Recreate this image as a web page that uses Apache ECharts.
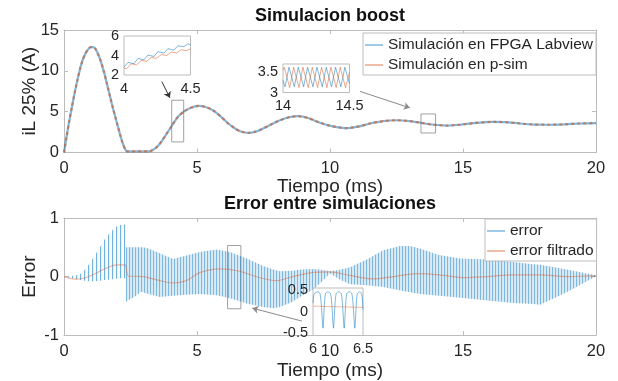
<!DOCTYPE html>
<html>
<head>
<meta charset="utf-8">
<script src="https://cdn.jsdelivr.net/npm/echarts@6/dist/echarts.min.js"></script>
<style>
  html, body { margin: 0; padding: 0; background: #fff; }
  #chart { width: 618px; height: 381px; }
</style>
</head>
<body>
<div id="chart"></div>
<script>
// ---- Inductor current, averaged over the switching period (ms, A) ----
const tMain = [0, 0.1, 0.2, 0.3, 0.4, 0.5, 0.6, 0.7, 0.8, 0.9, 1.0, 1.1, 1.2, 1.35, 1.5, 1.6, 1.75, 1.85, 2.0, 2.1, 2.2, 2.3, 2.36, 2.6, 2.9, 3.2, 3.3, 3.45, 3.61, 3.86, 4.0, 4.24, 4.5, 4.75, 5.05, 5.3, 5.61, 5.9, 6.12, 6.4, 6.62, 6.93, 7.2, 7.49, 7.8, 8.12, 8.5, 8.8, 9.2, 9.62, 10.1, 10.63, 11.1, 11.5, 12.0, 12.5, 13.0, 13.38, 13.9, 14.39, 14.9, 15.39, 16.14, 16.6, 17.14, 17.7, 18.27, 18.8, 19.4, 20];
const iFpga = [0, 2.0, 3.9, 5.6, 7.3, 8.8, 10.2, 11.3, 12.1, 12.6, 12.9, 12.9, 12.6, 11.5, 9.9, 8.6, 6.6, 5.3, 3.5, 2.3, 1.2, 0.4, 0.15, 0.15, 0.15, 0.15, 0.25, 0.55, 1.1, 2.3, 3.0, 4.2, 5.0, 5.45, 5.7, 5.6, 5.15, 4.4, 3.7, 3.0, 2.6, 2.4, 2.55, 2.95, 3.45, 3.95, 4.35, 4.45, 4.2, 3.65, 3.2, 2.98, 3.2, 3.55, 3.85, 3.95, 3.85, 3.65, 3.4, 3.3, 3.4, 3.6, 3.75, 3.72, 3.55, 3.42, 3.4, 3.45, 3.55, 3.6];
const iPsim = [0, 2.0, 3.9, 5.6, 7.3, 8.8, 10.2, 11.3, 12.1, 12.6, 12.9, 12.9, 12.6, 11.5, 9.9, 8.6, 6.6, 5.3, 3.5, 2.3, 1.2, 0.4, 0.15, 0.15, 0.15, 0.15, 0.25, 0.55, 1.1, 2.3, 3.0, 4.2, 5.0, 5.45, 5.7, 5.6, 5.15, 4.4, 3.7, 3.0, 2.6, 2.4, 2.55, 2.95, 3.45, 3.95, 4.35, 4.45, 4.2, 3.65, 3.2, 2.98, 3.2, 3.55, 3.85, 3.95, 3.85, 3.65, 3.4, 3.3, 3.4, 3.6, 3.75, 3.72, 3.55, 3.42, 3.4, 3.45, 3.55, 3.6];

// ---- Error envelope (upper / lower peaks of the ripple), before and after 2.32 ms ----
const errT1  = [0, 0.3, 0.6, 0.79, 0.98, 1.17, 1.35, 1.54, 1.73, 1.92, 2.1, 2.25, 2.32];
const errUp1 = [0, 0.01, 0.04, 0.12, 0.23, 0.37, 0.50, 0.64, 0.75, 0.84, 0.88, 0.89, 0.89];
const errLo1 = [0, -0.03, -0.06, -0.07, -0.08, -0.08, -0.07, -0.06, -0.05, -0.04, -0.03, -0.03, -0.03];
const errT2  = [2.32, 2.6, 2.9, 3.1, 3.6, 4.1, 4.6, 5.1, 5.74, 6.24, 6.87, 7.49, 7.87, 8.12, 8.6, 8.87, 9.37, 9.62, 10.0, 10.4, 10.75, 11.38, 12.0, 12.63, 13.0, 13.38, 14.1, 14.9, 15.9, 16.9, 17.64, 17.9, 18.9, 19.9, 20];
const errUp2 = [0.50, 0.50, 0.50, 0.49, 0.40, 0.30, 0.36, 0.42, 0.46, 0.42, 0.31, 0.18, 0.12, 0.09, 0.10, 0.12, 0.13, 0.12, 0.09, 0.12, 0.16, 0.29, 0.45, 0.52, 0.52, 0.48, 0.37, 0.31, 0.29, 0.25, 0.21, 0.20, 0.12, 0.03, 0.02];
const errLo2 = [-0.43, -0.36, -0.26, -0.29, -0.35, -0.33, -0.31, -0.30, -0.32, -0.37, -0.46, -0.52, -0.54, -0.52, -0.43, -0.35, -0.22, -0.12, 0.05, -0.06, -0.13, -0.15, -0.18, -0.24, -0.27, -0.30, -0.33, -0.36, -0.41, -0.45, -0.47, -0.48, -0.27, -0.02, 0];

// ---- Filtered error ----
const tFilt   = [0, 0.48, 0.98, 1.48, 1.98, 2.29, 2.42, 2.98, 3.6, 4.1, 4.6, 5.1, 5.86, 6.6, 7.37, 8.0, 8.6, 9.37, 10.0, 10.75, 11.6, 12.4, 13.26, 14.1, 15.1, 15.9, 16.9, 17.9, 18.9, 19.9, 20];
const errFilt = [0, -0.045, 0.01, 0.12, 0.2, 0.2, 0.01, 0, -0.07, -0.11, -0.07, 0.066, 0.13, 0.09, -0.02, -0.07, 0, 0.07, 0.08, 0.02, -0.04, 0, 0.05, 0.03, -0.02, 0, 0.03, 0.03, 0, 0.01, 0.01];

// ---- Detail 4 - 4.5 ms ----
const z1TF = [4.000, 4.030, 4.075, 4.105, 4.150, 4.180, 4.225, 4.255, 4.300, 4.330, 4.375, 4.405, 4.450, 4.480, 4.500];
const z1IF = [2.80, 3.30, 3.15, 3.70, 3.55, 4.05, 3.90, 4.40, 4.25, 4.70, 4.55, 5.00, 4.90, 5.20, 5.10];
const z1TP = [4.000, 4.020, 4.055, 4.095, 4.130, 4.170, 4.205, 4.245, 4.280, 4.320, 4.355, 4.395, 4.430, 4.470, 4.500];
const z1IP = [2.70, 2.65, 3.15, 3.05, 3.50, 3.40, 3.80, 3.70, 4.10, 4.00, 4.35, 4.25, 4.60, 4.50, 4.70];

// ---- Detail 14 - 14.5 ms ----
const z2TF = [14.000, 14.015, 14.045, 14.085, 14.115, 14.155, 14.185, 14.225, 14.255, 14.295, 14.325, 14.365, 14.395, 14.435, 14.465, 14.500];
const z2IF = [3.30, 3.14, 3.62, 3.14, 3.62, 3.14, 3.62, 3.14, 3.62, 3.14, 3.62, 3.14, 3.62, 3.14, 3.62, 3.22];
const z2TP = [14.000, 14.010, 14.050, 14.080, 14.120, 14.150, 14.190, 14.220, 14.260, 14.290, 14.330, 14.360, 14.400, 14.430, 14.470, 14.500];
const z2IP = [3.55, 3.62, 3.12, 3.62, 3.12, 3.62, 3.12, 3.62, 3.12, 3.62, 3.12, 3.62, 3.12, 3.62, 3.12, 3.50];

// ---- Detail of the error 6 - 6.5 ms ----
const z3T = [6.000, 6.010, 6.030, 6.050, 6.070, 6.085, 6.100, 6.112, 6.125, 6.150, 6.175, 6.190, 6.205, 6.218, 6.232, 6.257, 6.282, 6.297, 6.312, 6.325, 6.338, 6.363, 6.388, 6.403, 6.418, 6.431, 6.444, 6.468, 6.488, 6.500];
const z3E = [0.20, 0.40, 0.45, 0.46, 0.42, 0.10, -0.38, 0.10, 0.42, 0.46, 0.42, 0.10, -0.38, 0.10, 0.42, 0.46, 0.42, 0.10, -0.38, 0.10, 0.42, 0.46, 0.42, 0.10, -0.38, 0.10, 0.42, 0.46, 0.40, 0.05];
const z3FT = [6.0, 6.5];
const z3FE = [0.13, 0.10];

// ---- Tick labels ----
const z1XTicks = [4, 4.5], z1YTicks = [2, 4, 6];
const z2XTicks = [14, 14.5], z2YTicks = [3, 3.5];
const z3XTicks = [6, 6.5], z3YTicks = [-0.5, 0, 0.5];

const pairs = (xs, ys) => xs.map((x, i) => [x, ys[i]]);

const FONT = 'Liberation Sans, Arial, Helvetica, sans-serif';
const TXT = '#262626';
const AX = '#bcbcbc';
const BLUE = 'rgba(0,114,189,0.5)';
const ORANGE = 'rgba(217,83,25,0.5)';

// vertical-stripe fills for the ripple band of the error signal
function stripes(w, cols) {
  const c = document.createElement('canvas');
  c.width = w; c.height = 4;
  const g = c.getContext('2d');
  cols.forEach((col, i) => { g.fillStyle = col; g.fillRect(i, 0, 1, 4); });
  return { image: c, repeat: 'repeat' };
}
const stripeSparse = stripes(4, ['rgba(0,114,189,0.55)', 'rgba(0,114,189,0.1)', 'rgba(0,114,189,0.03)', 'rgba(0,114,189,0.03)']);
const stripeDense = stripes(3, ['rgba(0,114,189,0.5)', 'rgba(0,114,189,0.16)', 'rgba(0,114,189,0.14)']);

function bandSeries(ts, up, lo, fill) {
  return {
    type: 'custom', name: 'error', xAxisIndex: 2, yAxisIndex: 2, z: 2, clip: true,
    itemStyle: { color: BLUE },
    encode: { x: 0, y: [1, 2] },
    data: ts.map((t, i) => [t, up[i], lo[i]]),
    renderItem: function (params, api) {
      if (params.dataIndex !== 0) return null;
      const pts = [];
      for (let i = 0; i < ts.length; i++) pts.push(api.coord([ts[i], up[i]]));
      for (let i = ts.length - 1; i >= 0; i--) pts.push(api.coord([ts[i], lo[i]]));
      return { type: 'polygon', shape: { points: pts }, style: { fill: fill, stroke: null } };
    }
  };
}

const tickLbl = { fontSize: 16.5, color: TXT, fontFamily: FONT };
const insetLbl = { fontSize: 14.5, color: TXT, fontFamily: FONT };

function mainX(grid, name, gap, margin) {
  return {
    type: 'value', gridIndex: grid, min: 0, max: 20, interval: 5, position: 'bottom',
    name: name, nameLocation: 'middle', nameGap: gap,
    nameTextStyle: { fontSize: 19, color: TXT, fontFamily: FONT },
    axisLine: { show: true, onZero: false, lineStyle: { color: AX } },
    axisTick: { show: true, inside: true, length: 4, lineStyle: { color: AX } },
    axisLabel: Object.assign({ margin: margin }, tickLbl),
    splitLine: { show: false }
  };
}
function mirrorX(grid) {
  return {
    type: 'value', gridIndex: grid, min: 0, max: 20, interval: 5, position: 'top',
    axisLine: { show: true, onZero: false, lineStyle: { color: AX } },
    axisTick: { show: true, inside: true, length: 4, lineStyle: { color: AX } },
    axisLabel: { show: false }, splitLine: { show: false }
  };
}
function mainY(grid, min, max, interval, name, gap) {
  return {
    type: 'value', gridIndex: grid, min: min, max: max, interval: interval, position: 'left',
    name: name, nameLocation: 'middle', nameGap: gap, nameMoveOverlap: false,
    nameTextStyle: { fontSize: 19, color: TXT, fontFamily: FONT },
    axisLine: { show: true, onZero: false, lineStyle: { color: AX } },
    axisTick: { show: true, inside: true, length: 4, lineStyle: { color: AX } },
    axisLabel: Object.assign({ margin: 5 }, tickLbl),
    splitLine: { show: false }
  };
}
function mirrorY(grid, min, max, interval) {
  return {
    type: 'value', gridIndex: grid, min: min, max: max, interval: interval, position: 'right',
    axisLine: { show: true, onZero: false, lineStyle: { color: AX } },
    axisTick: { show: true, inside: true, length: 4, lineStyle: { color: AX } },
    axisLabel: { show: false }, splitLine: { show: false }
  };
}
function insetX(grid, min, max, ticks) {
  return {
    type: 'value', gridIndex: grid, min: min, max: max, z: 6,
    axisLine: { show: false }, axisTick: { show: false }, splitLine: { show: false },
    axisLabel: Object.assign({ margin: 6, customValues: ticks }, insetLbl)
  };
}
function insetY(grid, min, max, ticks) {
  return {
    type: 'value', gridIndex: grid, min: min, max: max, z: 6,
    axisLine: { show: false }, axisTick: { show: false }, splitLine: { show: false },
    axisLabel: Object.assign({ margin: 5, customValues: ticks }, insetLbl)
  };
}
const insetGrid = (l, t, w, h) => ({ left: l, top: t, width: w, height: h, show: true, backgroundColor: '#fff', borderColor: '#bcbcbc', borderWidth: 1, z: 5 });

const option = {
  animation: false,
  backgroundColor: '#fff',
  title: [
    { text: 'Simulacion boost', left: 330, top: 7, textAlign: 'center', padding: 0,
      textStyle: { fontSize: 18, fontWeight: 'bold', color: '#111', fontFamily: FONT } },
    { text: 'Error entre simulaciones', left: 330, top: 195, textAlign: 'center', padding: 0,
      textStyle: { fontSize: 18, fontWeight: 'bold', color: '#111', fontFamily: FONT } }
  ],
  legend: [
    { orient: 'vertical', left: 363, top: 33, padding: [4, 3, 2, 2], itemGap: 4, itemWidth: 18, itemHeight: 1.5,
      borderColor: '#bcbcbc', borderWidth: 1, backgroundColor: '#fff',
      textStyle: { fontSize: 15.5, color: TXT, fontFamily: FONT },
      data: [
        { name: 'Simulación en FPGA Labview', icon: 'rect', itemStyle: { color: BLUE } },
        { name: 'Simulación en p-sim', icon: 'rect', itemStyle: { color: ORANGE } }
      ] },
    { orient: 'vertical', left: 485, top: 219, padding: [4, 3, 2, 2], itemGap: 4, itemWidth: 18, itemHeight: 1.5,
      borderColor: '#bcbcbc', borderWidth: 1, backgroundColor: '#fff',
      textStyle: { fontSize: 15.5, color: TXT, fontFamily: FONT },
      data: [
        { name: 'error', icon: 'rect', itemStyle: { color: BLUE } },
        { name: 'error filtrado', icon: 'rect', itemStyle: { color: ORANGE } }
      ] }
  ],
  grid: [
    { left: 64, top: 30, width: 532, height: 122.5 },
    { left: 64, top: 218, width: 532, height: 122 },
    insetGrid(124, 36, 66.5, 39),
    insetGrid(283, 64, 66.5, 28.5),
    insetGrid(313, 288, 50, 47.5)
  ],
  xAxis: [
    mainX(0, 'Tiempo (ms)', 22, 7), mirrorX(0),
    mainX(1, 'Tiempo (ms)', 20, 8), mirrorX(1),
    insetX(2, 4, 4.5, z1XTicks), insetX(3, 14, 14.5, z2XTicks), insetX(4, 6, 6.5, z3XTicks)
  ],
  yAxis: [
    mainY(0, 0, 15, 5, 'iL 25% (A)', 25), mirrorY(0, 0, 15, 5),
    mainY(1, -1, 1, 1, 'Error', 25), mirrorY(1, -1, 1, 1),
    insetY(2, 2, 6, z1YTicks), insetY(3, 3, 3.7, z2YTicks), insetY(4, -0.55, 0.55, z3YTicks)
  ],
  series: [
    { type: 'line', name: 'Simulación en FPGA Labview', xAxisIndex: 0, yAxisIndex: 0, data: pairs(tMain, iFpga),
      symbol: 'none', smooth: 0.2, lineStyle: { color: BLUE, width: 2.2 }, itemStyle: { color: BLUE },
      markArea: { silent: true, label: { show: false },
        itemStyle: { color: 'rgba(0,0,0,0)', borderColor: '#a0a0a0', borderWidth: 1 },
        data: [[{ coord: [4.05, 1.3] }, { coord: [4.5, 6.4] }], [{ coord: [13.42, 2.39] }, { coord: [13.97, 4.72] }]] },
      markLine: { silent: true, symbol: ['none', 'arrow'], symbolSize: 6, label: { show: false },
        lineStyle: { type: 'solid', width: 1, color: '#333' },
        data: [
          [{ coord: [3.68, 8.67] }, { coord: [3.98, 6.7] }],
          [{ coord: [11.13, 7.48], lineStyle: { color: '#8a8a8a' } }, { coord: [13.0, 5.47] }]
        ] } },
    { type: 'line', name: 'Simulación en p-sim', xAxisIndex: 0, yAxisIndex: 0, data: pairs(tMain, iPsim),
      symbol: 'none', smooth: 0.2, lineStyle: { color: 'rgba(217,83,25,0.6)', width: 2.2, type: [3, 3] }, itemStyle: { color: ORANGE }, z: 3 },
    bandSeries(errT1, errUp1, errLo1, stripeSparse),
    bandSeries(errT2, errUp2, errLo2, stripeDense),
    { type: 'line', name: 'error filtrado', xAxisIndex: 2, yAxisIndex: 2, data: pairs(tFilt, errFilt),
      symbol: 'none', smooth: 0.3, lineStyle: { color: 'rgba(217,83,25,0.4)', width: 1.2 }, itemStyle: { color: ORANGE }, z: 3,
      markArea: { silent: true, label: { show: false },
        itemStyle: { color: 'rgba(0,0,0,0)', borderColor: '#a0a0a0', borderWidth: 1 },
        data: [[{ coord: [6.15, -0.55] }, { coord: [6.65, 0.53] }]] },
      markLine: { silent: true, symbol: ['none', 'arrow'], symbolSize: 6, label: { show: false },
        lineStyle: { type: 'solid', width: 1, color: '#8a8a8a' },
        data: [[{ coord: [8.94, -0.76] }, { coord: [7.08, -0.54] }]] } },
    { type: 'line', name: 'fpga 4-4.5', xAxisIndex: 4, yAxisIndex: 4, data: pairs(z1TF, z1IF), z: 6,
      symbol: 'none', lineStyle: { color: BLUE, width: 1 } },
    { type: 'line', name: 'psim 4-4.5', xAxisIndex: 4, yAxisIndex: 4, data: pairs(z1TP, z1IP), z: 6,
      symbol: 'none', lineStyle: { color: ORANGE, width: 1 } },
    { type: 'line', name: 'fpga 14-14.5', xAxisIndex: 5, yAxisIndex: 5, data: pairs(z2TF, z2IF), z: 6,
      symbol: 'none', lineStyle: { color: BLUE, width: 1 } },
    { type: 'line', name: 'psim 14-14.5', xAxisIndex: 5, yAxisIndex: 5, data: pairs(z2TP, z2IP), z: 6,
      symbol: 'none', lineStyle: { color: ORANGE, width: 1 } },
    { type: 'line', name: 'error 6-6.5', xAxisIndex: 6, yAxisIndex: 6, data: pairs(z3T, z3E), z: 6,
      symbol: 'none', smooth: 0.3, lineStyle: { color: BLUE, width: 1 } },
    { type: 'line', name: 'filtrado 6-6.5', xAxisIndex: 6, yAxisIndex: 6, data: pairs(z3FT, z3FE), z: 6,
      symbol: 'none', lineStyle: { color: 'rgba(217,83,25,0.4)', width: 1 } }
  ]
};

const chart = echarts.init(document.getElementById('chart'), null, { renderer: 'canvas' });
chart.setOption(option);
</script>
</body>
</html>
